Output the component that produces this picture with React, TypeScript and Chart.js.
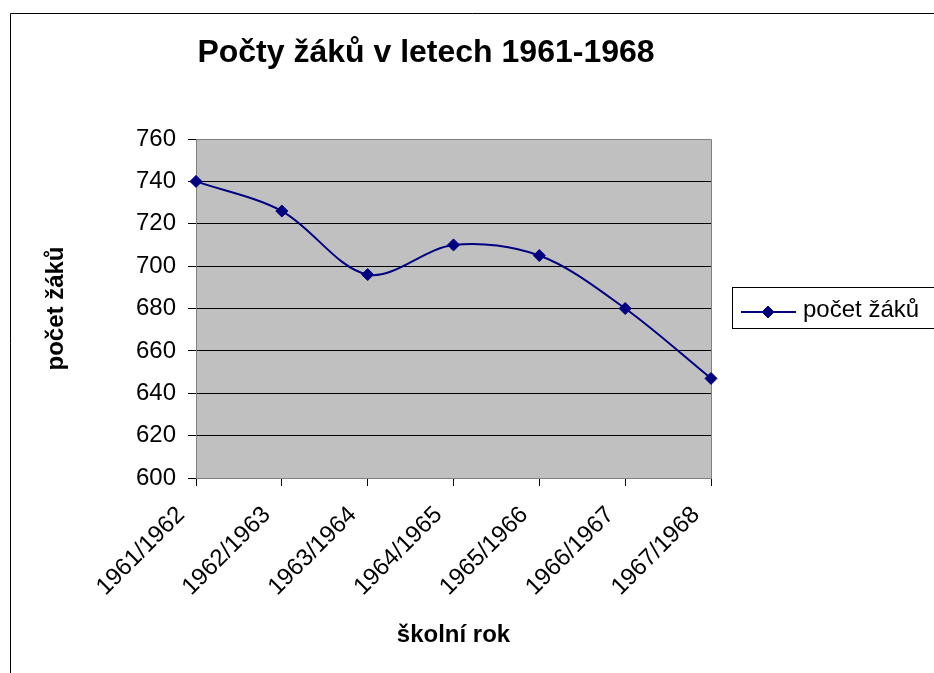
import React, { useEffect, useRef } from "react";
import { Chart, registerables } from "chart.js";

Chart.register(...registerables);

// ---- data ----
const categories = [
  "1961/1962",
  "1962/1963",
  "1963/1964",
  "1964/1965",
  "1965/1966",
  "1966/1967",
  "1967/1968",
];
const pupilCounts = [740, 726, 696, 710, 705, 680, 647];
const seriesLabel = "počet žáků";
const chartTitle = "Počty žáků v letech 1961-1968";
const xAxisTitle = "školní rok";
const yAxisTitle = "počet žáků";
const yTickValues = [600, 620, 640, 660, 680, 700, 720, 740, 760];

const FONT = '"Liberation Sans", Arial, sans-serif';
const NAVY = "#000080";

const decorPlugin = {
  id: "decor",
  beforeDraw(chart: any) {
    const { ctx, chartArea: a } = chart;
    // nudge rotated category labels so their ends sit left of the tick marks
    const xs = chart.scales.x;
    if (xs && !xs.__nudged) {
      const items = xs.getLabelItems();
      items.forEach((it: any) => {
        it.options.translation = [
          it.options.translation[0] - 15,
          it.options.translation[1] + 1,
        ];
      });
      xs.__nudged = true;
    }
    ctx.save();
    ctx.fillStyle = "#ffffff";
    ctx.fillRect(0, 0, chart.width, chart.height);
    ctx.fillStyle = "#C0C0C0";
    ctx.fillRect(a.left, a.top, a.right - a.left, a.bottom - a.top);
    // outer frame (left and top edges visible)
    ctx.strokeStyle = "#000000";
    ctx.lineWidth = 1;
    ctx.beginPath();
    ctx.moveTo(10.5, chart.height);
    ctx.lineTo(10.5, 13.5);
    ctx.lineTo(chart.width, 13.5);
    ctx.stroke();
    // title
    ctx.fillStyle = "#000000";
    ctx.font = `bold 32px ${FONT}`;
    ctx.textAlign = "center";
    ctx.textBaseline = "alphabetic";
    ctx.fillText(chartTitle, 426, 62);
    ctx.restore();
  },
  beforeDatasetsDraw(chart: any) {
    const { ctx, chartArea: a } = chart;
    ctx.save();
    ctx.strokeStyle = "#808080";
    ctx.lineWidth = 1;
    ctx.beginPath();
    ctx.moveTo(Math.round(a.left) + 0.5, Math.round(a.top) + 0.5);
    ctx.lineTo(Math.round(a.right) + 0.5, Math.round(a.top) + 0.5);
    ctx.lineTo(Math.round(a.right) + 0.5, Math.round(a.bottom) + 0.5);
    ctx.stroke();
    ctx.restore();
  },
  afterDraw(chart: any) {
    const { ctx } = chart;
    const label = chart.data.datasets[0].label;
    ctx.save();
    // legend box
    ctx.strokeStyle = "#000000";
    ctx.lineWidth = 1;
    ctx.strokeRect(732.5, 287.5, 300, 41);
    // legend line sample
    ctx.strokeStyle = NAVY;
    ctx.lineWidth = 2;
    ctx.beginPath();
    ctx.moveTo(741, 312);
    ctx.lineTo(796, 312);
    ctx.stroke();
    // diamond
    const cx = 768, cy = 312, r = 6;
    ctx.fillStyle = NAVY;
    ctx.lineWidth = 1;
    ctx.beginPath();
    ctx.moveTo(cx - r, cy);
    ctx.lineTo(cx, cy - r);
    ctx.lineTo(cx + r, cy);
    ctx.lineTo(cx, cy + r);
    ctx.closePath();
    ctx.fill();
    ctx.stroke();
    // legend text
    ctx.fillStyle = "#000000";
    ctx.font = `24px ${FONT}`;
    ctx.textAlign = "left";
    ctx.textBaseline = "alphabetic";
    ctx.fillText(label, 803, 317);
    ctx.restore();
  },
};

export default function App() {
  const ref = useRef<HTMLCanvasElement>(null);

  useEffect(() => {
    if (!ref.current) return;
    const chart = new Chart(ref.current, {
      type: "line",
      data: {
        labels: categories,
        datasets: [
          {
            label: seriesLabel,
            data: pupilCounts,
            borderColor: NAVY,
            backgroundColor: NAVY,
            borderWidth: 2,
            tension: 0.33,
            fill: false,
            pointStyle: "rectRot",
            pointRadius: 6,
            pointBorderWidth: 1,
            pointBackgroundColor: NAVY,
            pointBorderColor: NAVY,
          },
        ],
      },
      options: {
        responsive: false,
        animation: false,
        devicePixelRatio: 1,
        layout: { padding: { left: 0, top: 139, right: 223, bottom: 0 } },
        plugins: {
          legend: { display: false },
          title: { display: false },
          tooltip: { enabled: false },
        },
        scales: {
          x: {
            type: "category",
            offset: false,
            grid: {
              drawOnChartArea: false,
              drawTicks: true,
              tickLength: 8,
              color: "#000000",
            },
            border: { color: "#808080", width: 1 },
            ticks: {
              autoSkip: false,
              minRotation: 45,
              maxRotation: 45,
              padding: 14,
              color: "#000000",
              font: { family: FONT, size: 24 },
            },
            title: {
              display: true,
              text: xAxisTitle,
              color: "#000000",
              font: { family: FONT, size: 24, weight: "bold" },
              padding: { top: 0, bottom: 23 },
            },
            afterFit: (s: any) => {
              s.height = 195;
            },
          },
          y: {
            min: yTickValues[0],
            max: yTickValues[yTickValues.length - 1],
            afterBuildTicks: (s: any) => {
              s.ticks = yTickValues.map((v) => ({ value: v }));
            },
            ticks: {
              padding: 12,
              color: "#000000",
              font: { family: FONT, size: 24 },
            },
            grid: {
              color: (c: any) =>
                c.tick &&
                (c.tick.value === yTickValues[0] ||
                  c.tick.value === yTickValues[yTickValues.length - 1])
                  ? "rgba(0,0,0,0)"
                  : "#000000",
              tickColor: "#000000",
              tickLength: 8,
              lineWidth: 1,
            },
            border: { color: "#808080", width: 1 },
            title: {
              display: true,
              text: yAxisTitle,
              color: "#000000",
              font: { family: FONT, size: 24, weight: "bold" },
              padding: { top: 42, bottom: 0 },
            },
            afterFit: (s: any) => {
              s.width = 196;
            },
          },
        },
      },
      plugins: [decorPlugin],
    } as any);
    return () => chart.destroy();
  }, []);

  return (
    <div
      style={{
        position: "fixed",
        left: 0,
        top: 0,
        width: 934,
        height: 673,
        background: "#ffffff",
      }}
    >
      <canvas
        ref={ref}
        width={934}
        height={673}
        style={{ display: "block", width: 934, height: 673 }}
      />
    </div>
  );
}
